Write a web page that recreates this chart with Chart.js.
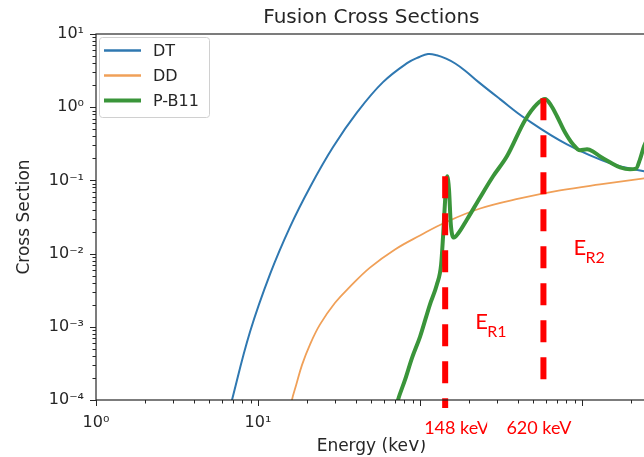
<!DOCTYPE html>
<html>
<head>
<meta charset="utf-8">
<script src="https://cdn.jsdelivr.net/npm/chart.js@4.4.0/dist/chart.umd.min.js"></script>
<style>
  html, body { margin: 0; padding: 0; background: #fff; overflow: hidden; }
  #wrap { width: 650px; height: 457px; }
</style>
</head>
<body>
<div id="wrap"><canvas id="chartFusion"></canvas></div>
<script>
const seriesNames = ['DT', 'DD', 'P-B11'];
const seriesColors = ['#2f78b1', '#f0a058', '#3a953a'];

// energies in keV, cross sections
const energyDT = [6.25, 6.91, 8.93, 11.9, 15.8, 20.9, 29.0, 41.4, 59.1, 83.2, 99, 112, 127, 145, 165, 190, 230, 312, 445, 808, 1553, 2415, 2700];
const sigmaDT = [3.9e-5, 1.0e-4, 8.54e-4, 5.32e-3, 0.0234, 0.0802, 0.283, 0.881, 2.20, 4.00, 4.85, 5.32, 5.12, 4.60, 3.95, 3.15, 2.20, 1.29, 0.706, 0.311, 0.166, 0.133, 0.125];

const energyDD = [15.5, 16.2, 17.2, 18.7, 20.9, 24.1, 29.9, 37.0, 49.1, 70.1, 100, 143, 235, 414, 731, 1291, 2415, 3030];
const sigmaDD = [5.3e-5, 1.0e-4, 1.6e-4, 3.02e-4, 5.67e-4, 1.07e-3, 2.13e-3, 3.53e-3, 6.43e-3, 0.0114, 0.0177, 0.0266, 0.0413, 0.0567, 0.0729, 0.0882, 0.1065, 0.113];

const energyPB = [69.1, 73.1, 80.8, 89.3, 100, 115, 127, 135, 139, 143, 147, 151, 155, 162, 172, 195, 235, 282, 344, 445, 527, 591, 644, 701, 785, 880, 972, 1074, 1169, 1291, 1489, 1718, 1977, 2154, 2280, 2415, 2630];
const sigmaPB = [6.2e-5, 1.0e-4, 1.88e-4, 3.76e-4, 7.29e-4, 2.0e-3, 3.76e-3, 7.06e-3, 0.0182, 0.0550, 0.1135, 0.0753, 0.0249, 0.0166, 0.0188, 0.0292, 0.0585, 0.113, 0.213, 0.664, 1.10, 1.29, 1.06, 0.753, 0.455, 0.311, 0.258, 0.266, 0.249, 0.213, 0.177, 0.151, 0.142, 0.145, 0.194, 0.292, 0.427];

// hand drawn resonance markers
const resonanceE = [143, 578];
const resonanceTop = [0.1135, 1.33];
const resonanceBottom = [7.8e-5, 1.71e-4];
const resonanceLabels = ['148 keV', '620 keV'];
const regionLabels = ['R1', 'R2'];

const xTickValues = [1, 10, 100, 1000];
const xTickLabels = ['10⁰', '10¹', '10²', '10³'];
const yTickValues = [1e-4, 1e-3, 1e-2, 1e-1, 1, 10];
const yTickLabels = ['10⁻⁴', '10⁻³', '10⁻²', '10⁻¹', '10⁰', '10¹'];

const toPoints = (xs, ys) => xs.map((x, i) => ({ x: x, y: ys[i] }));
const axisColor = '#262626';
const mplFont = 'DejaVu Sans';

const resonanceSets = resonanceE.map((e, i) => ({
  label: 'res' + i,
  data: [{ x: e, y: resonanceTop[i] }, { x: e, y: resonanceBottom[i] }],
  borderColor: '#ff0000',
  borderWidth: 6,
  borderDash: [22, 15],
  borderCapStyle: 'butt',
  pointRadius: 0,
  tension: 0,
  clip: false,
}));

const curveSets = [
  { label: 'P-B11', data: toPoints(energyPB, sigmaPB), borderColor: seriesColors[2], borderWidth: 4, cubicInterpolationMode: 'monotone' },
  { label: 'DD', data: toPoints(energyDD, sigmaDD), borderColor: seriesColors[1], borderWidth: 1.8, tension: 0.4 },
  { label: 'DT', data: toPoints(energyDT, sigmaDT), borderColor: seriesColors[0], borderWidth: 2, tension: 0.4 },
].map(d => Object.assign(d, { pointRadius: 0, fill: false }));

// frame, minor/major ticks and the boxed legend, matplotlib style
const axesDecor = {
  id: 'axesDecor',
  afterDatasetsDraw(chart) {
    const ctx = chart.ctx;
    const { left, right, top, bottom } = chart.chartArea;
    const xs = chart.scales.x, ys = chart.scales.y;
    ctx.save();
    ctx.strokeStyle = axisColor;
    ctx.lineWidth = 1.2;
    ctx.strokeRect(left, top, right - left, bottom - top);

    ctx.lineWidth = 1;
    const tick = (x1, y1, x2, y2) => { ctx.beginPath(); ctx.moveTo(x1, y1); ctx.lineTo(x2, y2); ctx.stroke(); };
    for (let d = 0; d <= 3; d++) {
      for (let k = 1; k <= 9; k++) {
        const v = k * Math.pow(10, d);
        if (v > xs.max) continue;
        const p = Math.round(xs.getPixelForValue(v)) + 0.5;
        tick(p, bottom, p, bottom + (k === 1 ? 6 : 3.5));
      }
    }
    for (let d = -4; d <= 1; d++) {
      for (let k = 1; k <= 9; k++) {
        const v = k * Math.pow(10, d);
        if (v > ys.max * 1.0001) continue;
        const p = Math.round(ys.getPixelForValue(v)) + 0.5;
        tick(left, p, left - (k === 1 ? 6 : 3.5), p);
      }
    }

    // legend box
    ctx.fillStyle = 'rgba(255,255,255,0.85)';
    ctx.strokeStyle = '#d0d0d0';
    ctx.lineWidth = 1;
    ctx.beginPath();
    ctx.roundRect(99.5, 37.5, 110, 80, 3);
    ctx.fill();
    ctx.stroke();
    ctx.font = '16px "' + mplFont + '"';
    ctx.textBaseline = 'middle';
    seriesNames.forEach((name, i) => {
      const ds = chart.data.datasets.find(d => d.label === name);
      const y = 50.5 + i * 25;
      ctx.strokeStyle = ds.borderColor;
      ctx.lineWidth = Math.max(ds.borderWidth, 2.5);
      tick(104, y, 141, y);
      ctx.fillStyle = axisColor;
      ctx.fillText(name, 153, y + 1);
    });
    ctx.restore();
  },
  afterDraw(chart) {
    // pasted annotation boxes and red labels
    const ctx = chart.ctx;
    const xs = chart.scales.x;
    const px = resonanceE.map(e => xs.getPixelForValue(e));
    ctx.save();
    ctx.textBaseline = 'middle';
    ctx.font = '18px Lato';
    ctx.fillStyle = '#fff';
    ctx.fillRect(px[0] - 40, 408, 82, 32);
    ctx.fillStyle = '#ff0000';
    ctx.fillText(resonanceLabels[0], px[0] - 21, 428);
    ctx.fillStyle = '#fff';
    ctx.fillRect(px[0] + 42, 408, 112, 49);
    ctx.fillStyle = '#ff0000';
    ctx.fillText(resonanceLabels[1], px[1] - 37, 428);

    const eBase = [329, 255];
    ctx.textBaseline = 'alphabetic';
    px.forEach((p, i) => {
      ctx.font = '22px Lato';
      ctx.fillText('E', p + 30, eBase[i]);
      ctx.font = '16px Lato';
      ctx.fillText(regionLabels[i], p + 42, eBase[i] + 8);
    });
    ctx.restore();
  },
};

const config = {
  type: 'line',
  data: { datasets: resonanceSets.concat(curveSets) },
  options: {
    responsive: true,
    maintainAspectRatio: false,
    animation: false,
    events: [],
    layout: { padding: { left: 0, right: 3.2, top: 0, bottom: 0 } },
    plugins: {
      legend: { display: false },
      tooltip: { enabled: false },
      title: {
        display: true,
        text: 'Fusion Cross Sections',
        fullSize: false,
        color: axisColor,
        font: { family: mplFont, size: 20, weight: 'normal' },
        padding: { top: 6, bottom: 4 },
      },
    },
    scales: {
      x: {
        type: 'logarithmic',
        min: 1,
        max: Math.pow(10, 3.4),
        afterBuildTicks: s => { s.ticks = xTickValues.map(v => ({ value: v })); },
        afterFit: s => { s.height = 57; },
        grid: { display: true, drawOnChartArea: false, drawTicks: false },
        border: { display: false },
        ticks: {
          autoSkip: false,
          maxRotation: 0,
          padding: 13,
          color: axisColor,
          font: { family: mplFont, size: 16 },
          callback: v => xTickLabels[xTickValues.indexOf(v)] ?? '',
        },
        title: {
          display: true,
          text: 'Energy (keV)',
          color: axisColor,
          font: { family: mplFont, size: 17 },
          padding: { top: 0, bottom: 0 },
        },
      },
      y: {
        type: 'logarithmic',
        min: 1e-4,
        max: 10,
        afterBuildTicks: s => { s.ticks = yTickValues.map(v => ({ value: v })); },
        afterFit: s => { s.width = 96; },
        grid: { display: true, drawOnChartArea: false, drawTicks: false },
        border: { display: false },
        ticks: {
          autoSkip: false,
          padding: 12,
          color: axisColor,
          font: { family: mplFont, size: 16 },
          callback: v => yTickLabels[yTickValues.indexOf(v)] ?? '',
        },
        title: {
          display: true,
          text: 'Cross Section',
          color: axisColor,
          font: { family: mplFont, size: 17 },
          padding: { top: 14, bottom: 0 },
        },
      },
    },
  },
  plugins: [axesDecor],
};

var chartFusion = new Chart(document.getElementById('chartFusion'), config);
</script>
</body>
</html>
